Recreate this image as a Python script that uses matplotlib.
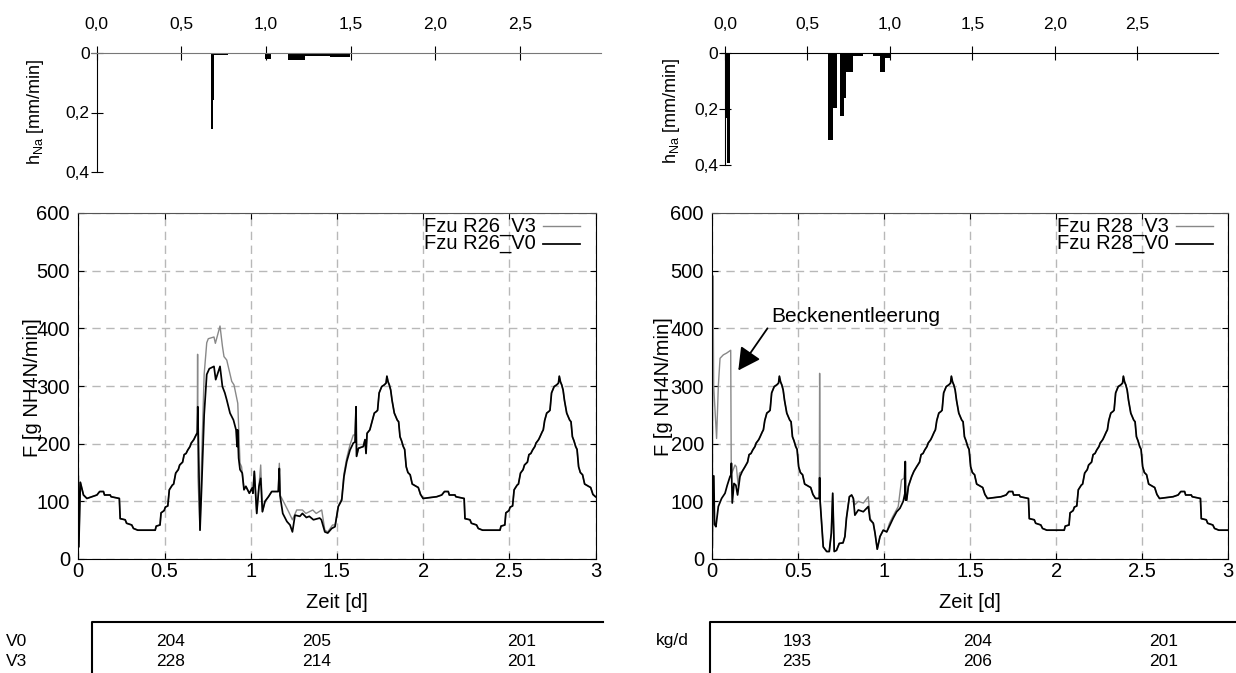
import matplotlib.pyplot as plt
from matplotlib.lines import Line2D

plt.rcParams['font.family'] = ['Liberation Sans', 'DejaVu Sans']
plt.rcParams['mathtext.default'] = 'regular'

W, H = 1236, 673

# one dry-weather day of NH4-N inflow (phase of R26), d in days, F in g/min
dry_d = [0.000, 0.079, 0.108, 0.124, 0.146, 0.152, 0.185, 0.190, 0.238, 0.243,
         0.272, 0.280, 0.310, 0.320, 0.345, 0.446, 0.452, 0.474, 0.480, 0.498,
         0.505, 0.519, 0.528, 0.545, 0.553, 0.565, 0.580, 0.588, 0.605, 0.614,
         0.625, 0.635, 0.648, 0.655, 0.670, 0.678, 0.690, 0.697, 0.705, 0.717,
         0.730, 0.736, 0.745, 0.760, 0.775, 0.785, 0.790, 0.797, 0.804, 0.812,
         0.820, 0.833, 0.850, 0.858, 0.866, 0.875, 0.885, 0.893, 0.902, 0.912,
         0.925, 0.937, 0.948, 0.960, 0.972, 0.985]
dry_v = [105, 108, 111, 117, 117, 111, 111, 108, 105, 70,
         68, 62, 59, 53, 50, 50, 57, 59, 80, 84,
         90, 92, 120, 128, 130, 149, 155, 163, 168, 181,
         183, 189, 195, 201, 207, 212, 220, 224, 240, 253,
         256, 258, 288, 299, 302, 305, 317, 307, 302, 293,
         275, 253, 241, 238, 212, 205, 195, 190, 160, 150,
         146, 130, 128, 126, 124, 112]

# R26: start of run and rain event
r26_start_t = [0.000, 0.003, 0.012, 0.030, 0.050]
r26_start_v = [143, 21, 133, 111, 105]

r26_v0_t = [0.690, 0.693, 0.706, 0.716, 0.730, 0.745, 0.760, 0.787, 0.797, 0.822,
            0.836, 0.850, 0.861, 0.880, 0.900, 0.915, 0.921, 0.924, 0.930, 0.938,
            0.951, 0.961, 0.972, 0.992, 1.008, 1.013, 1.021, 1.035, 1.048, 1.058,
            1.068, 1.083, 1.103, 1.122, 1.160, 1.166, 1.170, 1.186, 1.210, 1.228,
            1.242, 1.257, 1.285, 1.300, 1.323, 1.340, 1.364, 1.400, 1.410, 1.430,
            1.447, 1.470, 1.489, 1.508, 1.528, 1.541, 1.557, 1.576, 1.595, 1.605,
            1.611, 1.614, 1.625, 1.653, 1.663, 1.669, 1.675, 1.691]
r26_v0_v = [219, 264, 50, 130, 250, 320, 330, 334, 311, 334,
            299, 288, 276, 253, 241, 224, 195, 224, 175, 155,
            149, 120, 126, 114, 123, 114, 152, 79, 126, 140,
            82, 100, 108, 117, 117, 157, 110, 79, 65, 59,
            47, 76, 74, 79, 72, 74, 68, 71, 68, 47,
            45, 53, 56, 91, 102, 143, 169, 189, 201, 203,
            264, 178, 192, 195, 207, 183, 218, 224]

r26_v3_t = [0.690, 0.692, 0.694, 0.706, 0.716, 0.730, 0.745, 0.754, 0.787, 0.795,
            0.822, 0.836, 0.845, 0.861, 0.890, 0.903, 0.925, 0.938, 0.947, 0.961,
            0.972, 0.992, 1.008, 1.013, 1.021, 1.035, 1.048, 1.058, 1.068, 1.083,
            1.103, 1.122, 1.160, 1.166, 1.172, 1.186, 1.220, 1.242, 1.267, 1.300,
            1.320, 1.360, 1.380, 1.412, 1.430, 1.447, 1.475, 1.490, 1.508, 1.528,
            1.541, 1.557, 1.576, 1.595, 1.605, 1.611, 1.614, 1.625, 1.653, 1.663,
            1.669, 1.675, 1.691]
r26_v3_v = [219, 355, 143, 50, 180, 320, 375, 382, 385, 374,
            404, 369, 351, 345, 308, 302, 270, 166, 160, 122,
            126, 114, 123, 114, 152, 79, 126, 163, 82, 100,
            108, 117, 117, 166, 110, 102, 82, 68, 85, 85,
            79, 85, 79, 85, 50, 47, 59, 59, 91, 105,
            148, 175, 198, 215, 215, 264, 178, 192, 195, 207,
            183, 218, 224]

# R28: start of run (tank emptying) and rain event
r28_v0_start_t = [0.000, 0.002, 0.009, 0.013, 0.021, 0.035, 0.054, 0.074, 0.087, 0.103,
                  0.109, 0.111, 0.116, 0.126, 0.137, 0.147, 0.161, 0.174, 0.190]
r28_v0_start_v = [20, 144, 144, 60, 56, 91, 105, 114, 128, 143,
                  146, 166, 97, 131, 128, 111, 143, 152, 160]
r28_v3_start_t = [0.000, 0.004, 0.008, 0.025, 0.035, 0.045, 0.064, 0.083, 0.107, 0.110,
                  0.114, 0.132, 0.140, 0.151, 0.158, 0.174, 0.190]
r28_v3_start_v = [20, 491, 300, 209, 300, 348, 354, 357, 362, 166,
                  149, 163, 160, 126, 149, 152, 160]

r28_v0_t = [0.600, 0.622, 0.624, 0.627, 0.645, 0.665, 0.680, 0.692, 0.700, 0.709,
            0.722, 0.738, 0.760, 0.771, 0.780, 0.797, 0.810, 0.820, 0.829, 0.849,
            0.878, 0.907, 0.917, 0.936, 0.946, 0.959, 0.975, 0.994, 1.014, 1.033,
            1.052, 1.072, 1.091, 1.110, 1.120, 1.122, 1.124, 1.130, 1.140, 1.159,
            1.172, 1.188]
r28_v0_v = [105, 105, 141, 100, 21, 13, 13, 45, 114, 13,
            15, 27, 28, 39, 71, 108, 111, 105, 76, 85,
            82, 91, 68, 62, 45, 17, 39, 50, 47, 59,
            71, 82, 88, 100, 114, 169, 102, 102, 126, 143,
            152, 160]
r28_v3_t = [0.600, 0.622, 0.624, 0.627, 0.645, 0.665, 0.680, 0.692, 0.700, 0.709,
            0.722, 0.738, 0.760, 0.771, 0.780, 0.797, 0.810, 0.820, 0.829, 0.849,
            0.878, 0.907, 0.917, 0.936, 0.946, 0.959, 0.975, 0.994, 1.014, 1.030,
            1.050, 1.081, 1.100, 1.114, 1.122, 1.124, 1.130, 1.140, 1.159, 1.172,
            1.188]
r28_v3_v = [105, 105, 322, 100, 21, 13, 13, 45, 114, 13,
            15, 27, 28, 39, 71, 108, 111, 105, 94, 100,
            97, 108, 71, 62, 45, 17, 39, 50, 47, 62,
            74, 91, 137, 140, 169, 102, 102, 126, 143, 152,
            160]

# rain intensity hNa: bar start [d], duration [d], intensity [mm/min]
rain26_t = [0.675, 0.689, 0.695, 0.994, 1.132, 1.230, 1.378]
rain26_w = [0.014, 0.006, 0.083, 0.034, 0.098, 0.148, 0.118]
rain26_h = [0.256, 0.157, 0.006, 0.020, 0.022, 0.011, 0.015]

rain28_t = [0.000, 0.010, 0.626, 0.653, 0.697, 0.721, 0.733, 0.778, 0.899, 0.939, 0.970]
rain28_w = [0.010, 0.020, 0.027, 0.028, 0.024, 0.012, 0.045, 0.060, 0.040, 0.031, 0.034]
rain28_h = [0.233, 0.394, 0.310, 0.197, 0.224, 0.161, 0.068, 0.010, 0.012, 0.068, 0.018]

main_xticks = [0, 0.5, 1, 1.5, 2, 2.5, 3]
main_xlabels = ['0', '0.5', '1', '1.5', '2', '2.5', '3']
rain_xticks = [0, 0.5, 1, 1.5, 2, 2.5]
rain_xlabels = ['0,0', '0,5', '1,0', '1,5', '2,0', '2,5']
rain_yticks = [0, 0.2, 0.4]
rain_ylabels = ['0', '0,2', '0,4']

# daily loads [kg/d] per day
load_days = ['V0', 'V3']
load26 = [[204, 205, 201], [228, 214, 201]]
load28 = [[193, 204, 201], [235, 206, 201]]

FS_MAIN = 14.5
FS_SMALL = 12.5


def box(x0, y0, x1, y1):
    return [x0 / W, 1 - y1 / H, (x1 - x0) / W, (y1 - y0) / H]


def dry(offset, d0, d1):
    pts = [(offset + d, v) for d, v in zip(dry_d, dry_v) if d0 <= d < d1]
    return [p[0] for p in pts], [p[1] for p in pts]


def join(*parts):
    t, v = [], []
    for pt, pv in parts:
        t += list(pt)
        v += list(pv)
    return t, v


r26_v0 = join((r26_start_t, r26_start_v), dry(0, 0.07, 0.685), (r26_v0_t, r26_v0_v),
              dry(1, 0.70, 1.0), dry(2, 0.0, 1.0), ([3.0], [108]))
r26_v3 = join((r26_start_t, r26_start_v), dry(0, 0.07, 0.685), (r26_v3_t, r26_v3_v),
              dry(1, 0.70, 1.0), dry(2, 0.0, 1.0), ([3.0], [108]))
# R28 runs 0.4 d ahead of R26 in the daily cycle
r28_v0 = join((r28_v0_start_t, r28_v0_start_v), dry(-0.4, 0.6, 0.99), (r28_v0_t, r28_v0_v),
              dry(0.6, 0.6, 1.0), dry(1.6, 0.0, 1.0), dry(2.6, 0.0, 0.4), ([3.0], [50]))
r28_v3 = join((r28_v3_start_t, r28_v3_start_v), dry(-0.4, 0.6, 0.99), (r28_v3_t, r28_v3_v),
              dry(0.6, 0.6, 1.0), dry(1.6, 0.0, 1.0), dry(2.6, 0.0, 0.4), ([3.0], [50]))

fig = plt.figure(figsize=(W / 100, H / 100), dpi=100)


def flow_panel(rect, s3, s0, names):
    ax = fig.add_axes(box(*rect))
    ax.plot(s3[0], s3[1], color='#888888', lw=1.0)
    ax.plot(s0[0], s0[1], color='black', lw=1.25)
    ax.set_xlim(0, 3)
    ax.set_ylim(0, 600)
    ax.set_xticks(main_xticks, main_xlabels)
    ax.set_yticks(range(0, 601, 100))
    ax.grid(True, color='#b8b8b8', lw=1.0, ls=(0, (6, 4)))
    ax.tick_params(direction='in', top=True, right=True, length=4, labelsize=FS_MAIN)
    ax.tick_params(axis='x', pad=2)
    ax.tick_params(axis='y', pad=6)
    ax.spines['top'].set_color('#555555')
    # gnuplot-like key: text right-aligned, sample line after it
    for i, (name, col, lw) in enumerate([(names[0], '#888888', 1.0), (names[1], 'black', 1.25)]):
        y = 0.962 - i * 0.051
        ax.text(0.885, y, name, transform=ax.transAxes, ha='right', va='center', fontsize=FS_MAIN)
        ax.plot([0.898, 0.970], [y, y], transform=ax.transAxes, color=col, lw=lw)
    return ax


def rain_panel(rect, x0, x1, starts, widths, depths, line_col):
    ax = fig.add_axes(box(*rect))
    ax.bar(starts, depths, width=widths, align='edge', color='black', linewidth=0)
    ax.set_xlim(x0, x1)
    ax.set_ylim(0.4, 0)
    ax.patch.set_alpha(0)
    ax.spines['bottom'].set_visible(False)
    ax.spines['right'].set_visible(False)
    ax.spines['left'].set_position(('data', 0))
    ax.spines['top'].set_color(line_col)
    ax.xaxis.tick_top()
    ax.set_xticks(rain_xticks, rain_xlabels)
    ax.set_yticks(rain_yticks, rain_ylabels)
    ax.tick_params(axis='x', direction='inout', length=10, pad=10, labelsize=FS_SMALL)
    ax.tick_params(axis='y', direction='inout', length=8, pad=1, labelsize=FS_SMALL)
    return ax


rain_panel((91, 53, 601, 172), -0.033, 2.978, rain26_t, rain26_w, rain26_h, '#777777')
rain_panel((721, 53, 1218, 165), -0.024, 2.988, rain28_t, rain28_w, rain28_h, 'black')

ax1 = flow_panel((78.3, 213, 595.5, 559), r26_v3, r26_v0, ['Fzu R26_V3', 'Fzu R26_V0'])
ax2 = flow_panel((712.3, 213, 1228.3, 559), r28_v3, r28_v0, ['Fzu R28_V3', 'Fzu R28_V0'])

ax2.annotate('', xy=(0.142, 323), xytext=(0.33, 404),
             arrowprops=dict(arrowstyle='-|>,head_length=0.75,head_width=0.4',
                             mutation_scale=18, color='black', lw=1.3))
ax2.text(0.345, 420, 'Beckenentleerung', ha='left', va='center', fontsize=15)

# axis titles
for x, y in [(32, 388), (664, 387)]:
    fig.text(x / W, 1 - y / H, 'F [g NH4N/min]', rotation=90, ha='center', va='center', fontsize=FS_MAIN)
for x in [337, 970]:
    fig.text(x / W, 1 - 602 / H, 'Zeit [d]', ha='center', va='center', fontsize=FS_MAIN)
for x, y in [(36, 112), (672, 111)]:
    fig.text(x / W, 1 - y / H, r'h$_{Na}$ [mm/min]', rotation=90, ha='center', va='center', fontsize=13)

# daily load table
for x0, x1 in [(92, 603), (710, 1236)]:
    fig.add_artist(Line2D([x0 / W, x0 / W, x1 / W], [0, 1 - 622 / H, 1 - 622 / H],
                          color='black', lw=1.5))
row_y = [641, 661]
for i, name in enumerate(load_days):
    fig.text(6 / W, 1 - row_y[i] / H, name, ha='left', va='center', fontsize=FS_SMALL)
fig.text(672 / W, 1 - row_y[0] / H, 'kg/d', ha='center', va='center', fontsize=FS_SMALL)
for i in range(2):
    for x, val in zip([171, 317, 522], load26[i]):
        fig.text(x / W, 1 - row_y[i] / H, str(val), ha='center', va='center', fontsize=FS_SMALL)
    for x, val in zip([797, 978, 1164], load28[i]):
        fig.text(x / W, 1 - row_y[i] / H, str(val), ha='center', va='center', fontsize=FS_SMALL)

fig.savefig('out.png', dpi=100)
